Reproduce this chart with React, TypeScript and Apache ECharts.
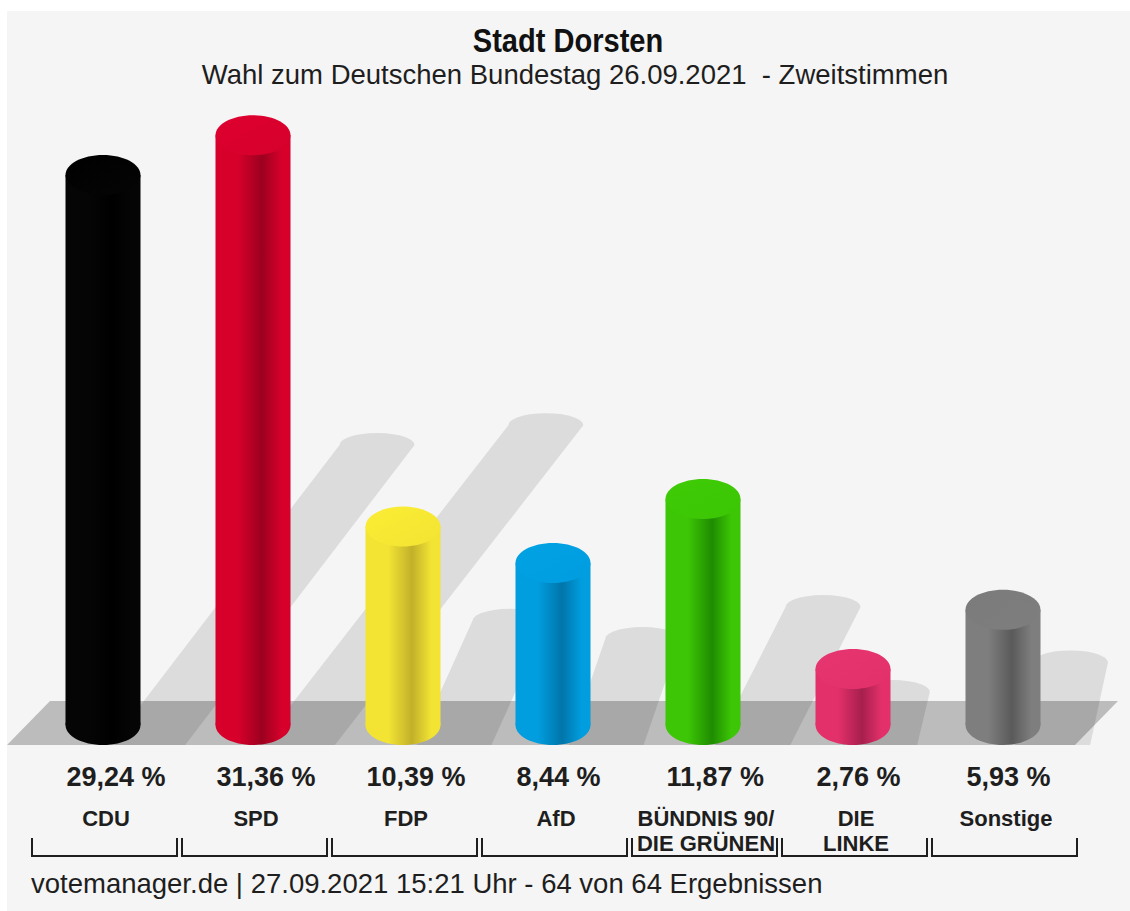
import React, { useEffect, useRef } from "react";
import * as echarts from "echarts";

const parties = ["CDU", "SPD", "FDP", "AfD", "BÜNDNIS 90/\nDIE GRÜNEN", "DIE\nLINKE", "Sonstige"];
const shares = [29.24, 31.36, 10.39, 8.44, 11.87, 2.76, 5.93];
const lightColors = ["#050505", "#d6002b", "#f3e434", "#009ddf", "#3cc605", "#e3306a", "#7e7e7e"];
const darkColors = ["#000000", "#9c001f", "#c2b02a", "#0075aa", "#1f8c00", "#a61f4d", "#5a5a5a"];
const capColors = ["#000000", "#de0030", "#fbec33", "#00a2e4", "#3fcb06", "#e63570", "#7b7b7b"];

const titleText = "Stadt Dorsten";
const subtitleText = "Wahl zum Deutschen Bundestag 26.09.2021  - Zweitstimmen";
const footerText = "votemanager.de | 27.09.2021 15:21 Uhr - 64 von 64 Ergebnissen";

const FONT = "'Liberation Sans', Arial, Helvetica, sans-serif";

function fmt(v: number) {
  return v.toFixed(2).replace(".", ",") + " %";
}

export default function App() {
  const ref = useRef<HTMLDivElement>(null);
  useEffect(() => {
    const chart = echarts.init(ref.current!, null, { renderer: "svg" });
    const RX = 37.5;
    const RY = 20;
    const BASE_OFF = 4.5;

    const shadowItem = (params: any, api: any) => {
      const i = api.value(0);
      const v = api.value(1);
      const top = api.coord([i, v]);
      const cx = top[0];
      const topY = top[1];
      const y0 = api.coord([i, 0])[1];
      const baseY = y0 + BASE_OFF;
      const h = baseY - topY;
      const dy = 0.5 * h + 5;
      const dx = 0.95 * dy + 8;
      const tx = cx + dx;
      const ty = baseY - dy;
      const off = Math.min(60, dx * 0.8);
      const bx0 = cx + off;
      const slope = (tx - bx0) / dy;
      const ext = 20;
      const bx = bx0 - slope * ext;
      const by = baseY + ext;
      const pts: number[][] = [[bx - RX, by], [tx - RX, ty]];
      for (let k = 1; k < 14; k++) {
        const th = Math.PI - (Math.PI * k) / 14;
        pts.push([tx + RX * Math.cos(th), ty - 12 * Math.sin(th)]);
      }
      pts.push([tx + RX, ty]);
      pts.push([bx + RX, by]);
      return {
        type: "polygon",
        shape: { points: pts },
        style: { fill: "rgba(0,0,0,0.1)" },
      };
    };

    const barItem = (params: any, api: any) => {
      const i = api.value(0);
      const v = api.value(1);
      const top = api.coord([i, v]);
      const cx = top[0];
      const topY = top[1];
      const y0 = api.coord([i, 0])[1];
      const baseY = y0 + BASE_OFF;
      const idx = params.dataIndex;
      const light = lightColors[idx];
      const dark = darkColors[idx];
      const bodyFill = new echarts.graphic.LinearGradient(0, 0, 1, 0, [
        { offset: 0, color: light },
        { offset: 0.3, color: light },
        { offset: 0.62, color: dark },
        { offset: 0.88, color: light },
        { offset: 1, color: light },
      ]);
      const capFill = new echarts.graphic.LinearGradient(0, 0, 1, 1, [
        { offset: 0, color: capColors[idx] },
        { offset: 1, color: light },
      ]);
      const children: any[] = [
        {
          type: "ellipse",
          shape: { cx, cy: baseY, rx: RX, ry: RY },
          style: { fill: bodyFill },
        },
        {
          type: "rect",
          shape: { x: cx - RX, y: topY, width: RX * 2, height: baseY - topY },
          style: { fill: bodyFill },
        },
        {
          type: "ellipse",
          shape: { cx, cy: topY, rx: RX, ry: RY },
          style: { fill: capFill },
        },
        {
          type: "text",
          style: {
            text: fmt(v),
            x: cx - RX + 1,
            y: 777,
            fill: "#1e1e1e",
            fontSize: 27,
            fontWeight: "bold",
            fontFamily: FONT,
            align: "left",
            verticalAlign: "middle",
          },
        },
        {
          type: "polyline",
          shape: {
            points: [
              [cx - 71, 838],
              [cx - 71, 856],
              [cx + 74, 856],
              [cx + 74, 838],
            ],
          },
          style: { stroke: "#1e1e1e", lineWidth: 2, fill: null },
        },
      ];
      const lines = String(parties[idx]).split("\n");
      lines.forEach((ln, k) => {
        children.push({
          type: "text",
          style: {
            text: ln,
            x: cx + 3,
            y: 818 + k * 25,
            fill: "#1e1e1e",
            fontSize: 22,
            fontWeight: "bold",
            fontFamily: FONT,
            align: "center",
            verticalAlign: "middle",
          },
        });
      });
      return { type: "group", children };
    };

    const data = shares.map((v, i) => [i, v]);

    chart.setOption({
      animation: false,
      backgroundColor: "#ffffff",
      grid: { left: 28, width: 1050, top: 720.5 - 18.66 * 35, height: 18.66 * 35 },
      xAxis: { type: "category", data: parties, show: false },
      yAxis: { type: "value", min: 0, max: 35, show: false },
      graphic: [
        {
          type: "rect",
          z: 0,
          shape: { x: 7, y: 11, width: 1123, height: 900 },
          style: { fill: "#f5f5f5" },
        },
        {
          type: "polygon",
          z: 1,
          shape: { points: [[7, 745], [50, 701], [1118, 701], [1075, 745]] },
          style: { fill: "#bcbcbc" },
        },
        {
          type: "text",
          z: 10,
          x: 568,
          y: 41,
          scaleX: 0.88,
          style: {
            text: titleText,
            x: 0,
            y: 0,
            fill: "#111111",
            fontSize: 33,
            fontWeight: "bold",
            fontFamily: FONT,
            align: "center",
            textAlign: "center",
            verticalAlign: "middle",
            textVerticalAlign: "middle",
          },
        },
        {
          type: "text",
          z: 10,
          x: 575,
          y: 74,
          style: {
            text: subtitleText,
            x: 0,
            y: 0,
            fill: "#1e1e1e",
            fontSize: 27.5,
            fontFamily: FONT,
            align: "center",
            textAlign: "center",
            verticalAlign: "middle",
            textVerticalAlign: "middle",
          },
        },
        {
          type: "text",
          z: 10,
          x: 31,
          y: 883,
          style: {
            text: footerText,
            x: 0,
            y: 0,
            fill: "#1e1e1e",
            fontSize: 27.5,
            fontFamily: FONT,
            align: "left",
            textAlign: "left",
            verticalAlign: "middle",
            textVerticalAlign: "middle",
          },
        },
      ],
      series: [
        {
          type: "custom",
          z: 2,
          renderItem: shadowItem,
          data,
          encode: { x: 0, y: 1 },
          silent: true,
        },
        {
          type: "custom",
          z: 3,
          renderItem: barItem,
          data,
          encode: { x: 0, y: 1 },
          silent: true,
        },
      ],
    });
    return () => chart.dispose();
  }, []);
  return (
    <div
      ref={ref}
      style={{ position: "fixed", left: 0, top: 0, width: 1130, height: 911 }}
    />
  );
}
